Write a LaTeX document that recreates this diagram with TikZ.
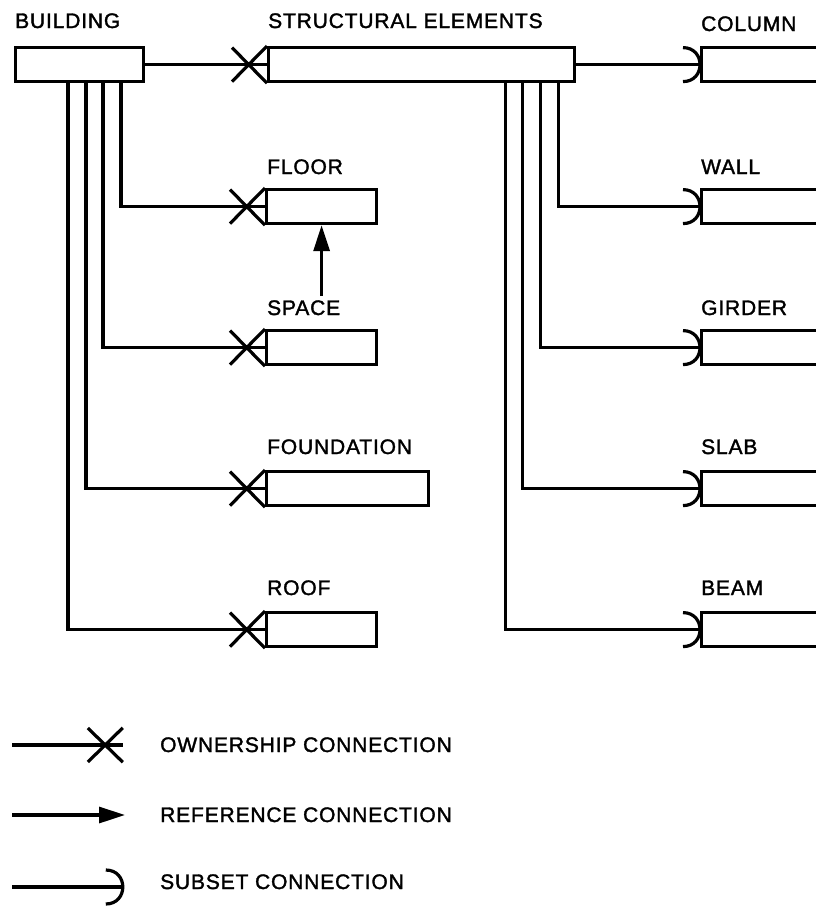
\documentclass[tikz,border=0pt]{standalone}
\usepackage{fontspec}
\setmainfont{Liberation Sans}[LetterSpace=4,FakeBold=1.6]
\usetikzlibrary{arrows.meta}
\newcommand\ownmark[1]{\draw[ln] ([shift={(-35,-17)}]#1.west) -- (#1.south west) ([shift={(-35,17)}]#1.west) -- (#1.north west);}
\newcommand\subsetmark[1]{\draw[ln] ([shift={(-17,-17)}]#1.west) .. controls ([shift={(5.7,-17)}]#1.west) and ([shift={(5.7,17)}]#1.west) .. ([shift={(-17,17)}]#1.west);}
\begin{document}
\begin{tikzpicture}[x=1pt,y=-1pt,
  ln/.style={line width=3.2pt},
  ebox/.style={draw, line width=3.2pt, rectangle, inner sep=0, minimum height=34pt, anchor=north west},
  lbl/.style={anchor=base west, inner sep=0, font=\fontsize{21}{21}\selectfont},
  anch/.style={inner sep=0, minimum width=0pt, minimum height=34pt},
  reftip/.style={-{Triangle[length=26pt,width=16pt]}}]
\useasboundingbox (0,0) rectangle (816,906);
\clip (0,0) rectangle (816,906);
% boxes
\node[ebox, minimum width=128pt] (bld) at (14,46) {};
\node[ebox, minimum width=306pt] (str) at (267,46) {};
\node[ebox, minimum width=110pt] (floor) at (265,188) {};
\node[ebox, minimum width=110pt] (space) at (265,329) {};
\node[ebox, minimum width=162pt] (found) at (265,470) {};
\node[ebox, minimum width=110pt] (roof) at (265,611) {};
\node[ebox, minimum width=160pt] (col) at (700,46) {};
\node[ebox, minimum width=160pt] (wall) at (700,188) {};
\node[ebox, minimum width=160pt] (gird) at (700,329) {};
\node[ebox, minimum width=160pt] (slab) at (700,470) {};
\node[ebox, minimum width=160pt] (beam) at (700,611) {};
% labels
\node[lbl] (lbld) at (15,28) {BUILDING};
\node[lbl] (lstr) at (268,28) {STRUCTURAL ELEMENTS};
\node[lbl] (lfloor) at (267,174) {FLOOR};
\node[lbl] (lspace) at (267,315) {SPACE};
\node[lbl] (lfound) at (267,454) {FOUNDATION};
\node[lbl] (lroof) at (267,595) {ROOF};
\node[lbl] (lcol) at (701,31) {COLUMN};
\node[lbl] (lwall) at (701,174) {WALL};
\node[lbl] (lgird) at (701,315) {GIRDER};
\node[lbl] (lslab) at (701,454) {SLAB};
\node[lbl] (lbeam) at (701,595) {BEAM};
% ownership connections
\draw[ln] (bld.east) -- (str.west); \ownmark{str}
\draw[ln] ([xshift=107pt]bld.south west) |- (floor.west); \ownmark{floor}
\draw[ln] ([xshift=89pt]bld.south west) |- (space.west); \ownmark{space}
\draw[ln] ([xshift=72pt]bld.south west) |- (found.west); \ownmark{found}
\draw[ln] ([xshift=54pt]bld.south west) |- (roof.west); \ownmark{roof}
% subset connections
\draw[ln] (str.east) -- (col.west); \subsetmark{col}
\draw[ln] ([xshift=-18pt]str.south east) |- (wall.west); \subsetmark{wall}
\draw[ln] ([xshift=-36pt]str.south east) |- (gird.west); \subsetmark{gird}
\draw[ln] ([xshift=-54pt]str.south east) |- (slab.west); \subsetmark{slab}
\draw[ln] ([xshift=-71pt]str.south east) |- (beam.west); \subsetmark{beam}
% reference connection
\draw[ln, reftip] ([yshift=4pt]lspace.north -| floor.south) -- (floor.south);
% legend
\coordinate (o1) at (12,745);
\node[anch] (o2) at (123,745) {};
\draw[ln] (o1) -- (o2.west); \ownmark{o2}
\node[lbl] (to) at (160,752) {OWNERSHIP CONNECTION};
\coordinate (r1) at (12,815);
\coordinate (r2) at (125,815);
\draw[ln, reftip] (r1) -- (r2);
\node[lbl] (tr) at (160,822) {REFERENCE CONNECTION};
\coordinate (s1) at (12,887);
\node[anch] (s2) at (123,887) {};
\draw[ln] (s1) -- (s2.west); \subsetmark{s2}
\node[lbl] (ts) at (160,889) {SUBSET CONNECTION};
\end{tikzpicture}
\end{document}
